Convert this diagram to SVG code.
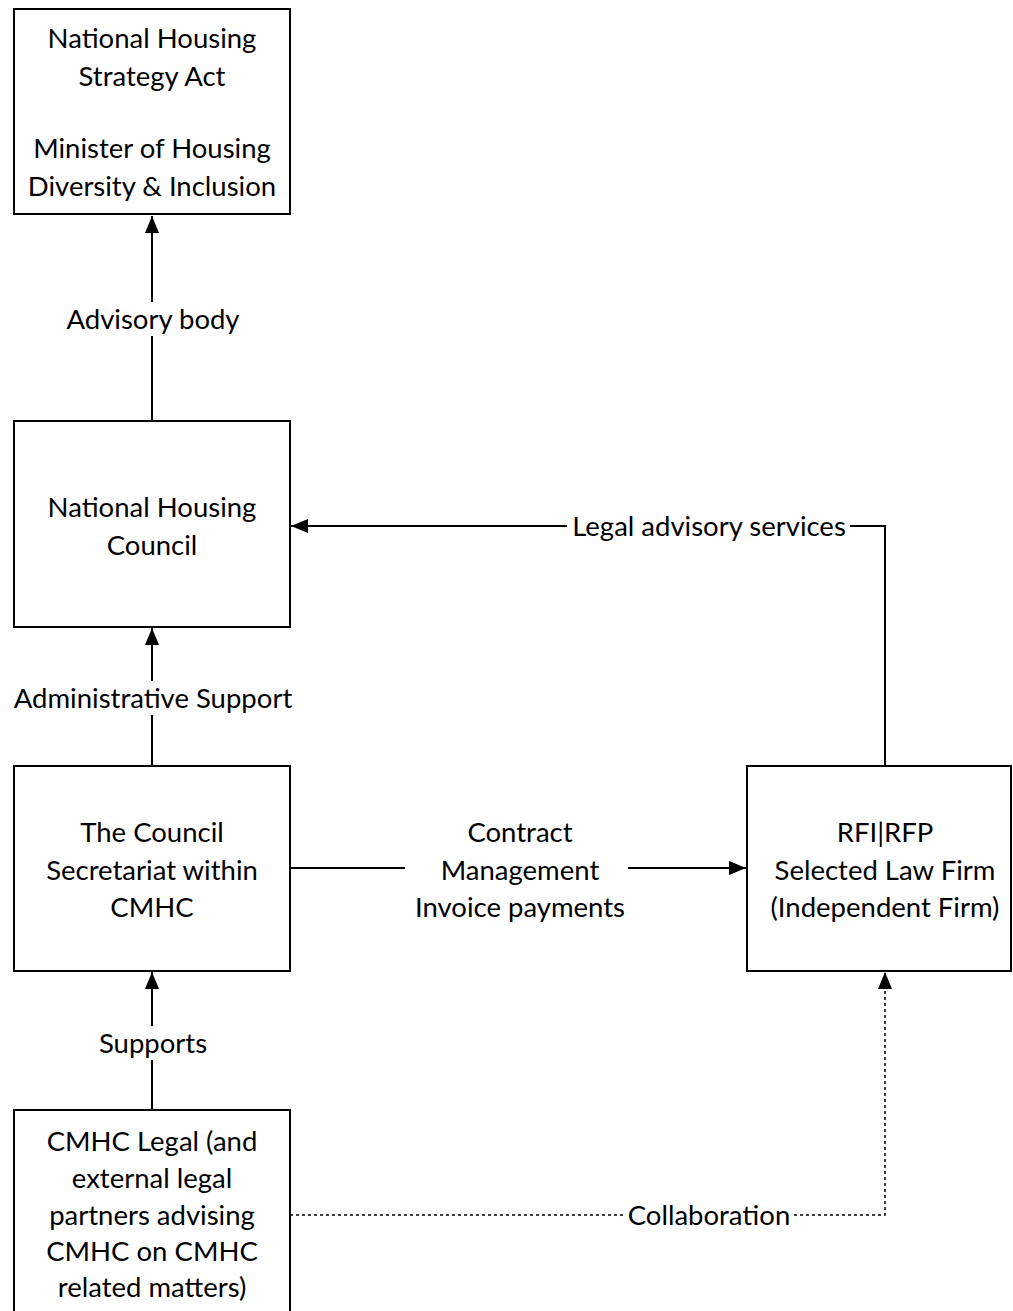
<svg xmlns="http://www.w3.org/2000/svg" width="1013" height="1311" viewBox="0 0 1013 1311">
<style>
.box{fill:#fff;stroke:#000;stroke-width:2}
.t{font-family:Lato,"Liberation Sans",sans-serif;font-size:27.5px;fill:#000;text-anchor:middle;dominant-baseline:central}
.ln{fill:none;stroke:#000;stroke-width:2}
.dot{fill:none;stroke:#000;stroke-width:1.5;stroke-dasharray:3,3}
.bg{fill:#fff}
</style>
<defs>
<marker id="ah" viewBox="0 0 17 14" refX="17" refY="7" markerWidth="17" markerHeight="14" markerUnits="userSpaceOnUse" orient="auto">
<path d="M0,0 L17,7 L0,14 Z" fill="#000"/>
</marker>
</defs>
<g id="connectors">
<line class="ln" x1="152" y1="421" x2="152" y2="216" marker-end="url(#ah)"/>
<line class="ln" x1="152" y1="766" x2="152" y2="628" marker-end="url(#ah)"/>
<line class="ln" x1="152" y1="1110" x2="152" y2="972" marker-end="url(#ah)"/>
<line class="ln" x1="290" y1="868" x2="746" y2="868" marker-end="url(#ah)"/>
<polyline class="ln" points="885,766 885,526 291,526" marker-end="url(#ah)"/>
<polyline class="dot" points="290,1215 885,1215 885,972" marker-end="url(#ah)"/>
<rect class="bg" x="64" y="302" width="180" height="34"/>
<text class="t" x="153" y="318">Advisory body</text>
<rect class="bg" x="8" y="681" width="290" height="34"/>
<text class="t" x="153" y="697">Administrative Support</text>
<rect class="bg" x="95" y="1026" width="117" height="34"/>
<text class="t" x="153" y="1042">Supports</text>
<rect class="bg" x="567" y="509" width="283" height="34"/>
<text class="t" x="709" y="525">Legal advisory services</text>
<rect class="bg" x="624" y="1198" width="170" height="34"/>
<text class="t" x="709" y="1214">Collaboration</text>
<rect class="bg" x="405" y="815" width="223" height="110"/>
<text class="t" x="520" y="831">Contract</text>
<text class="t" x="520" y="869">Management</text>
<text class="t" x="520" y="906">Invoice payments</text>
</g>
<g id="node-act">
<rect class="box" x="14" y="9" width="276" height="205"/>
<text class="t" x="152" y="37">National Housing</text>
<text class="t" x="152" y="75">Strategy Act</text>
<text class="t" x="152" y="147">Minister of Housing</text>
<text class="t" x="152" y="185">Diversity &amp; Inclusion</text>
</g>
<g id="node-council">
<rect class="box" x="14" y="421" width="276" height="206"/>
<text class="t" x="152" y="506">National Housing</text>
<text class="t" x="152" y="544">Council</text>
</g>
<g id="node-secretariat">
<rect class="box" x="14" y="766" width="276" height="205"/>
<text class="t" x="152" y="831">The Council</text>
<text class="t" x="152" y="869">Secretariat within</text>
<text class="t" x="152" y="906">CMHC</text>
</g>
<g id="node-lawfirm">
<rect class="box" x="747" y="766" width="264" height="205"/>
<text class="t" x="885" y="831">RFI|RFP</text>
<text class="t" x="885" y="869">Selected Law Firm</text>
<text class="t" x="885" y="906">(Independent Firm)</text>
</g>
<g id="node-legal">
<rect class="box" x="14" y="1110" width="276" height="220"/>
<text class="t" x="152" y="1140">CMHC Legal (and</text>
<text class="t" x="152" y="1177">external legal</text>
<text class="t" x="152" y="1214">partners advising</text>
<text class="t" x="152" y="1250">CMHC on CMHC</text>
<text class="t" x="152" y="1286">related matters)</text>
</g>
</svg>
